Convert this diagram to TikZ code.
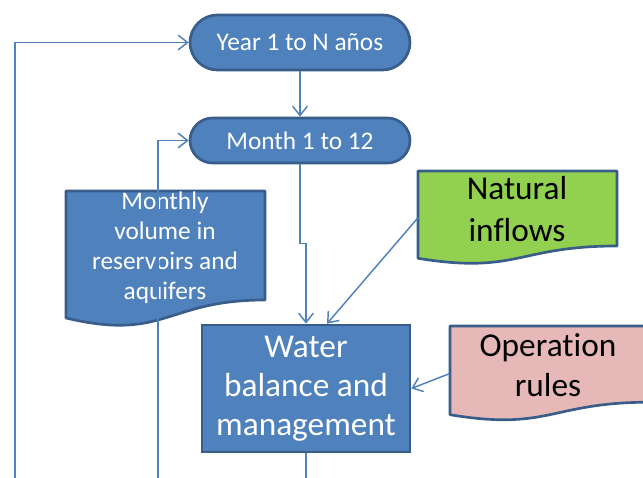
\documentclass[tikz,border=0pt]{standalone}
\usepackage{fontspec}
\setmainfont{Carlito}[Ligatures={NoCommon,NoContextual},RawFeature={-calt}]
\usetikzlibrary{arrows.meta,shapes.misc,calc}
\definecolor{bfill}{HTML}{4F81BD}
\definecolor{bline}{HTML}{385D8A}
\definecolor{gfill}{HTML}{92D050}
\definecolor{pfill}{HTML}{E6B9B8}
\begin{document}
\begin{tikzpicture}[x=0.75pt,y=-0.75pt,
  conn/.style={draw=bfill,line width=1.1pt},
  arr/.style={conn,-{Straight Barb[length=7pt,width=11pt]}},
  term/.style={rounded rectangle,fill=bfill,draw=bline,line width=2pt,text=white,
    font=\fontsize{19}{22}\selectfont,minimum width=165pt,inner sep=0pt},
  docpath/.style={draw=bline,line width=2pt,line join=round},
  anchorbox/.style={inner sep=0pt,outer sep=0pt},
  smalltxt/.style={align=center,font=\fontsize{19}{22.5}\selectfont},
  bigtxt/.style={align=center,font=\fontsize{25}{30}\selectfont}]
\clip (0,0) rectangle (643,478);
\useasboundingbox (0,0) rectangle (643,478);

% terminators
\node[term,minimum height=41.25pt] (year) at (300,42.5) {Year 1 to N años};
\node[term,minimum height=33.75pt] (month) at (300,140.5) {Month 1 to 12};

% monthly volume document
\draw[docpath,fill=bfill] (66,191) -- (265,191) -- (265,300)
  .. controls (165.5,300) and (165.5,341.6) .. (66,318) -- cycle;
\node[smalltxt,text=white] (vol) at (165,248) {Monthly\\volume in\\reservoirs and\\aquifers};

% water balance
\node[rectangle,fill=bfill,draw=bline,line width=2pt,text=white,
  minimum width=156pt,minimum height=95.25pt,inner sep=0pt,
  align=center,font=\fontsize{25}{29.25}\selectfont] (water) at (306,388.5)
  {Water\\balance and\\management};

% natural inflows document
\draw[docpath,fill=gfill] (418,171) -- (617,171) -- (617,246)
  .. controls (517.5,246) and (517.5,274.5) .. (418,258.3) -- cycle;
\node[anchorbox,minimum width=149.25pt,minimum height=70.1pt] (natbox) at (517.5,217.75) {};
\node[bigtxt,font=\fontsize{25}{31.5}\selectfont] (nat) at (517,209) {Natural\\inflows};

% operation rules document
\draw[docpath,fill=pfill] (450,326) -- (650,326) -- (650,402.2)
  .. controls (550,402.2) and (550,431.2) .. (450,414.7) -- cycle;
\node[anchorbox,minimum width=150pt,minimum height=71.25pt] (opbox) at (550,373.5) {};
\node[bigtxt] (op) at (548,365) {Operation\\rules};

% connectors
\coordinate (loopA) at (15,478);
\coordinate (loopB) at (158,478);
\coordinate (outW) at (306,478);
\draw[arr] (year.south) -- (month.north);
\draw[arr] (loopA) |- (year.west);
\draw[arr] (loopB) |- (month.west);
\draw[arr] (month.south) -- ++(0,79) -| (water.north);
\draw[arr] (natbox.west) -- ($(water.north)+(21,0)$);
\draw[arr] (opbox.west) -- (water.east);
\draw[conn] (water.south) -- (outW);
\end{tikzpicture}
\end{document}
